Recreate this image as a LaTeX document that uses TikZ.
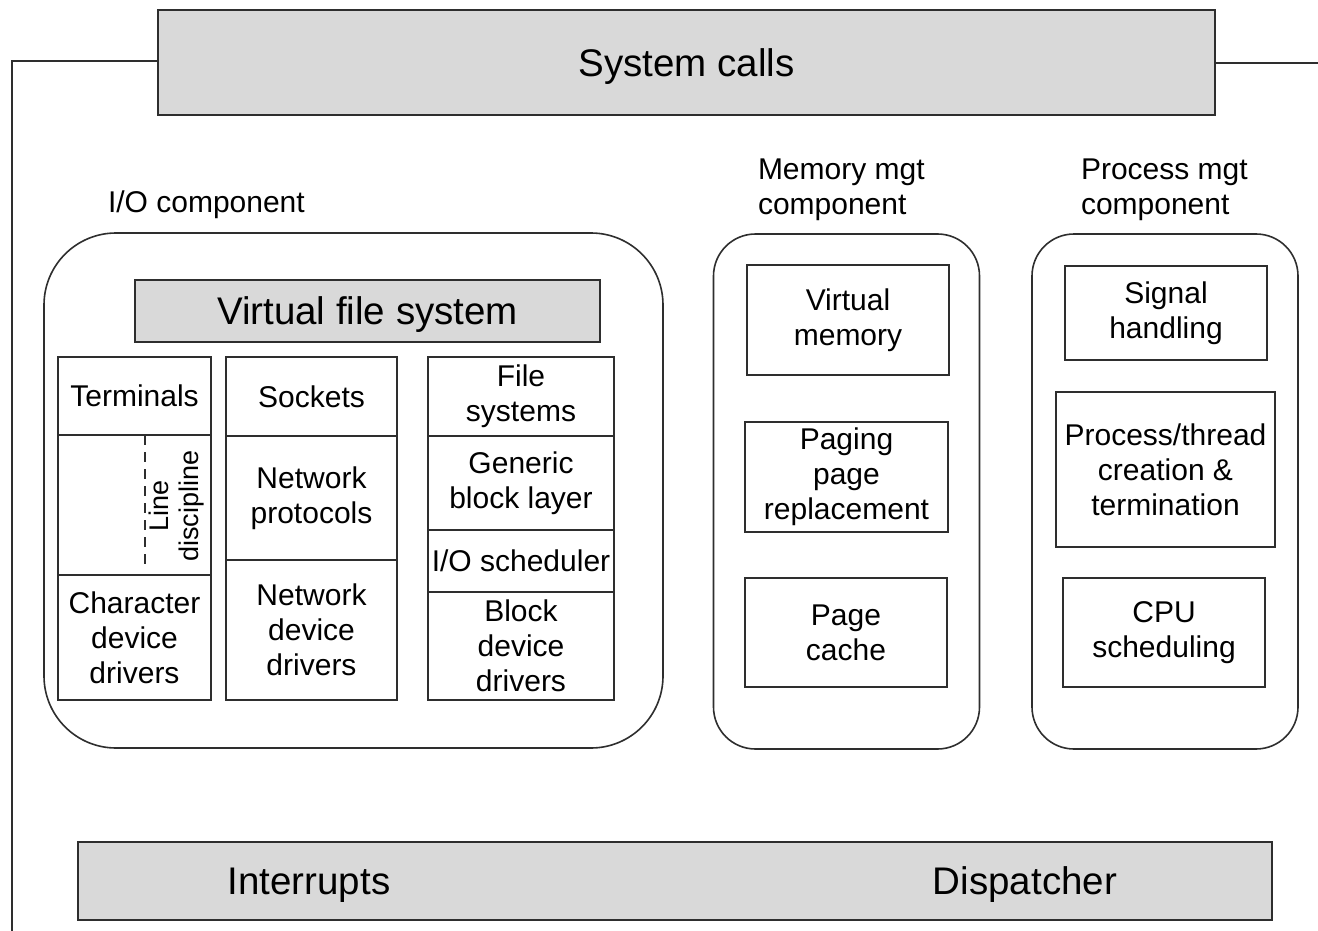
\documentclass[tikz,border=0pt]{standalone}
\usepackage{fontspec}
\setmainfont{Liberation Sans}
\usetikzlibrary{positioning}
\definecolor{bargray}{HTML}{D9D9D9}
\definecolor{inkgray}{HTML}{2E2E2E}

\begin{document}
\begin{tikzpicture}[
    x=1pt, y=-1pt,
    every node/.style={inner sep=0pt, outer sep=0pt},
    bar/.style={rectangle, draw=inkgray, line width=2pt, fill=bargray, font=\fontsize{38.5}{46}\selectfont, text height=27.7pt, text depth=0pt},
    bigtext/.style={font=\fontsize{38.5}{46}\selectfont, text height=27.7pt, text depth=0pt},
    group/.style={rectangle, draw=inkgray, line width=1.6pt, rounded corners=#1},
    cell/.style={rectangle, draw=inkgray, line width=1.6pt, align=center, font=\fontsize{30}{35}\selectfont},
    caption/.style={align=left, anchor=north west, font=\fontsize{30}{35}\selectfont},
    wire/.style={draw=inkgray, line width=1.4pt}
]
\useasboundingbox (0,0) rectangle (1318,931);

% System calls
\node[bar, minimum width=1057pt, minimum height=105pt] (syscalls) at (686.5,62.5) {System calls};
\coordinate (lcorner) at (12,61);
\coordinate (lfoot) at (12,931);
\coordinate (rend) at (1318,63);
\draw[wire] (syscalls.west |- lcorner) -- (lcorner) -- (lfoot);
\draw[wire] (syscalls.east |- rend) -- (rend);

% I/O component
\node[caption] (iolabel) at (108,191) {I/O component};
\node[group=72pt, minimum width=619pt, minimum height=515pt] (io) at (353.5,490.5) {};
\node[bar, minimum width=465pt, minimum height=62pt] (vfs) at (367.5,311) {Virtual file system};

% character column
\node[cell, minimum width=153pt, minimum height=78pt, anchor=north west] (term) at (58,357) {Terminals};
\node[cell, minimum width=153pt, minimum height=140pt, below=0pt of term] (ldisc) {};
\node[cell, minimum width=153pt, minimum height=125pt, below=0pt of ldisc] (chardrv) {Character\\device\\drivers};
\coordinate (dashtop) at (145,435);
\coordinate (dashbot) at (145,568);
\draw[wire, dash pattern=on 10pt off 7pt] (dashtop) -- (dashbot);
\node[cell, draw=none, rotate=90, font=\fontsize{27}{30}\selectfont] (ldisctext) at (177,506) {Line\\discipline};

% network column
\node[cell, minimum width=171pt, minimum height=79pt, anchor=north west] (sockets) at (226,357) {Sockets};
\node[cell, minimum width=171pt, minimum height=124pt, below=0pt of sockets] (netproto) {Network\\protocols};
\node[cell, minimum width=171pt, minimum height=140pt, below=0pt of netproto] (netdrv) {Network\\device\\drivers};

% block column
\node[cell, minimum width=186pt, minimum height=79pt, anchor=north west] (filesys) at (428,357) {File\\systems};
\node[cell, minimum width=186pt, minimum height=94pt, below=0pt of filesys] (genblock) {Generic\\block layer};
\node[cell, minimum width=186pt, minimum height=62pt, below=0pt of genblock] (iosched) {I/O scheduler};
\node[cell, minimum width=186pt, minimum height=108pt, below=0pt of iosched] (blkdrv) {Block\\device\\drivers};

% Memory mgt component
\node[caption] (memlabel) at (758,159) {Memory mgt\\component};
\node[group=42pt, minimum width=266pt, minimum height=515pt] (mem) at (846.5,491.5) {};
\node[cell, minimum width=202pt, minimum height=110pt] (vmem) at (848,320) {Virtual\\memory};
\node[cell, minimum width=203pt, minimum height=110pt] (paging) at (846.5,477) {Paging\\page\\replacement};
\node[cell, minimum width=202pt, minimum height=109pt] (pcache) at (846,632.5) {Page\\cache};

% Process mgt component
\node[caption] (proclabel) at (1081,159) {Process mgt\\component};
\node[group=42pt, minimum width=266pt, minimum height=515pt] (proc) at (1165,491.5) {};
\node[cell, minimum width=202pt, minimum height=94pt] (signal) at (1166,313) {Signal\\handling};
\node[cell, minimum width=219pt, minimum height=155pt] (thread) at (1165.5,469.5) {Process/thread\\creation \&\\termination};
\node[cell, minimum width=202pt, minimum height=109pt] (cpusched) at (1164,632.5) {CPU\\scheduling};

% Interrupts and dispatcher
\node[bar, minimum width=1194pt, minimum height=78pt] (lowbar) at (675,881) {};
\node[bigtext] (irq) at (309,881) {Interrupts};
\node[bigtext] (disp) at (1025,881) {Dispatcher};

\end{tikzpicture}
\end{document}
